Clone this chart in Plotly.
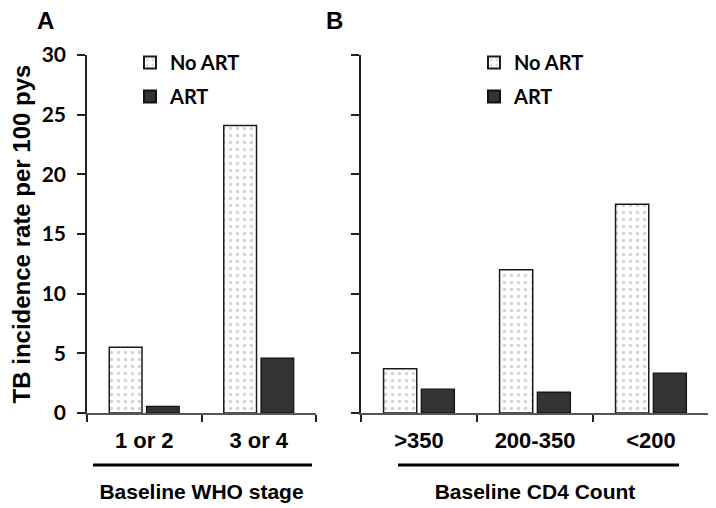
import plotly.graph_objects as go

# Data
who_stage = ["1 or 2", "3 or 4"]
who_no_art = [5.5, 24.1]
who_art = [0.55, 4.6]

cd4_count = [">350", "200-350", "<200"]
cd4_no_art = [3.7, 12.0, 17.5]
cd4_art = [2.0, 1.75, 3.35]

y_ticks = [0, 5, 10, 15, 20, 25, 30]

W, H = 716, 508
OFF = 8  # page body margin offset
def px(x):
    return (x - OFF) / W
def py(y):
    return 1 - (y - OFF) / H

def b(s):
    return "<b>" + s + "</b>"

NO_ART_PATTERN = dict(shape=".", fgcolor="#a8a8a8", bgcolor="#ffffff", size=7, solidity=0.2)
NO_ART_LINE = dict(color="#1a1a1a", width=1.5)
ART_COLOR = "#333333"
ART_LINE = dict(color="#111111", width=1.2)

fig = go.Figure()

fig.add_trace(go.Bar(x=who_stage, y=who_no_art, name=b("No ART"), xaxis="x", yaxis="y",
                     marker=dict(color="#ffffff", pattern=NO_ART_PATTERN, line=NO_ART_LINE),
                     legend="legend", legendgroup="a1"))
fig.add_trace(go.Bar(x=who_stage, y=who_art, name=b("ART"), xaxis="x", yaxis="y",
                     marker=dict(color=ART_COLOR, line=ART_LINE), legend="legend", legendgroup="a2"))
fig.add_trace(go.Bar(x=cd4_count, y=cd4_no_art, name=b("No ART"), xaxis="x2", yaxis="y2",
                     marker=dict(color="#ffffff", pattern=NO_ART_PATTERN, line=NO_ART_LINE),
                     legend="legend2", legendgroup="b1"))
fig.add_trace(go.Bar(x=cd4_count, y=cd4_art, name=b("ART"), xaxis="x2", yaxis="y2",
                     marker=dict(color=ART_COLOR, line=ART_LINE), legend="legend2", legendgroup="b2"))

tick_font = dict(family="Lato", size=21, color="#000000", weight="bold")
cat_font = dict(family="Liberation Sans", size=22, color="#000000", weight="bold")
group_font = dict(family="Liberation Sans", size=21, color="#000000", weight="bold")
legend_font = dict(family="Lato", size=20, color="#000000", weight="bold")
axis_line = "#555555"

common_x = dict(type="category", showline=True, linecolor=axis_line, linewidth=1.5,
                ticks="outside", tickson="boundaries", ticklen=7, tickwidth=1.5,
                tickcolor="#222222", showgrid=False, zeroline=False, tickfont=cat_font,
                automargin=False, fixedrange=True, ticklabelstandoff=7)
common_y = dict(range=[0, 30], tickvals=y_ticks, showline=True, linecolor="#222222",
                linewidth=1.5, ticks="outside", ticklen=8, tickwidth=1.5, tickcolor="#222222",
                showgrid=False, zeroline=False, automargin=False, fixedrange=True)

fig.update_layout(
    width=W, height=H,
    margin=dict(l=0, r=0, t=0, b=0, autoexpand=False),
    paper_bgcolor="white", plot_bgcolor="white",
    barmode="group", bargap=0.35, bargroupgap=0.12,
    xaxis=dict(domain=[px(87), px(316)], anchor="y", tickvals=who_stage,
               ticktext=[b(t) for t in who_stage],
               title=dict(text=b("Baseline WHO stage"), font=group_font, standoff=32), **common_x),
    yaxis=dict(domain=[py(413), py(55)], anchor="x", tickfont=tick_font,
               ticktext=[b(str(t)) for t in y_ticks], ticklabelstandoff=7,
               title=dict(text=b("TB incidence rate per 100 pys"),
                          font=dict(family="Liberation Sans", size=24, color="#000000", weight="bold"),
                          standoff=19),
               **common_y),
    xaxis2=dict(domain=[px(361), px(709)], anchor="y2", tickvals=cd4_count,
                ticktext=[b(t) for t in cd4_count],
                title=dict(text=b("Baseline CD4 Count"), font=group_font, standoff=32), **common_x),
    yaxis2=dict(domain=[py(413), py(55)], anchor="x2", showticklabels=False, **common_y),
    legend=dict(x=px(130), y=py(43), xanchor="left", yanchor="top", font=legend_font,
                bgcolor="rgba(0,0,0,0)", tracegroupgap=5, itemsizing="constant"),
    legend2=dict(x=px(474), y=py(43), xanchor="left", yanchor="top", font=legend_font,
                 bgcolor="rgba(0,0,0,0)", tracegroupgap=5, itemsizing="constant"),
    showlegend=True,
    annotations=[
        dict(text=b("A"), x=px(35), y=py(21), xref="paper", yref="paper", xanchor="left",
             yanchor="middle", showarrow=False,
             font=dict(family="Liberation Sans", size=24, color="#000000", weight="bold")),
        dict(text=b("B"), x=px(324), y=py(21), xref="paper", yref="paper", xanchor="left",
             yanchor="middle", showarrow=False,
             font=dict(family="Liberation Sans", size=24, color="#000000", weight="bold")),
    ],
    shapes=[
        dict(type="line", xref="paper", yref="paper", x0=px(93), x1=px(312),
             y0=py(465), y1=py(465), line=dict(color="#000000", width=3)),
        dict(type="line", xref="paper", yref="paper", x0=px(398), x1=px(679),
             y0=py(465), y1=py(465), line=dict(color="#000000", width=3)),
    ],
)

fig.write_html("out.html")
